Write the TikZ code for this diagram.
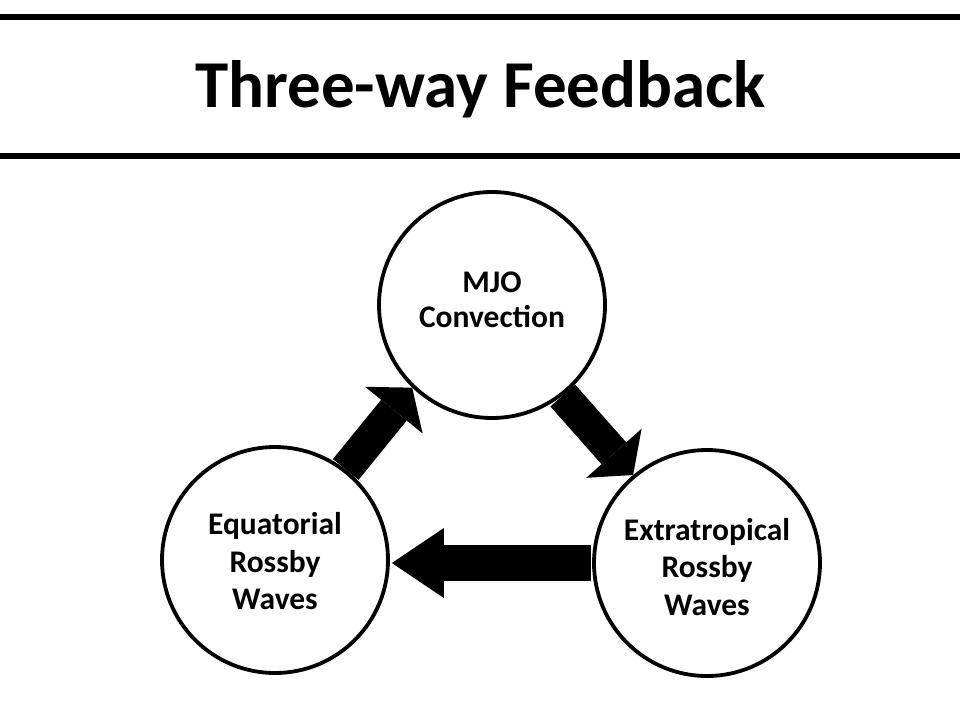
\documentclass[tikz,border=0pt]{standalone}
\usepackage{fontspec}
\setmainfont{Carlito}
\usetikzlibrary{positioning,arrows.meta}

\begin{document}
\begin{tikzpicture}[x=1pt,y=-1pt]
\useasboundingbox (0,0) rectangle (960,720);

\tikzset{rule/.style={line width=6pt},
bubble/.style={circle,draw,line width=3.8pt,minimum size=226pt,inner sep=0pt},
caption/.style={align=center,inner sep=0pt,font=\fontsize{31.5}{37.5}\selectfont\bfseries},
diagarrow/.style={line width=33pt,-{Triangle[width=74pt,length=29pt,line width=0pt]}},
flatarrow/.style={line width=36pt,-{Triangle[width=70pt,length=52pt,line width=0pt]}}}

% title between two rules
\draw[rule] (0,16.5) -- (960,16.5);
\draw[rule] (0,156) -- (960,156);
\node[anchor=base,font=\fontsize{67}{80}\selectfont\bfseries] (title) at (480.5,107) {Three-way Feedback};

\node[bubble] (mjo) at (492,305) {};
\node[bubble] (eq) at (275,560) {};
\node[bubble] (ex) at (707,563) {};

\node[caption,font=\fontsize{31.5}{35}\selectfont\bfseries] (mjotext) at ([yshift=5.5pt]mjo.center) {MJO\\Convection};
\node[caption] (eqtext) at ([yshift=-1.5pt]eq.center) {Equatorial\\Rossby\\Waves};
\node[caption] (extext) at ([yshift=-4pt]ex.center) {Extratropical\\Rossby\\Waves};

\draw[diagarrow] (eq.52) -- (mjo.226);
\draw[diagarrow] (mjo.-52) -- (ex.130);
\draw[flatarrow] ([xshift=-1pt]ex.180) -- ([xshift=2pt]ex.180 -| eq.0);
\end{tikzpicture}
\end{document}
